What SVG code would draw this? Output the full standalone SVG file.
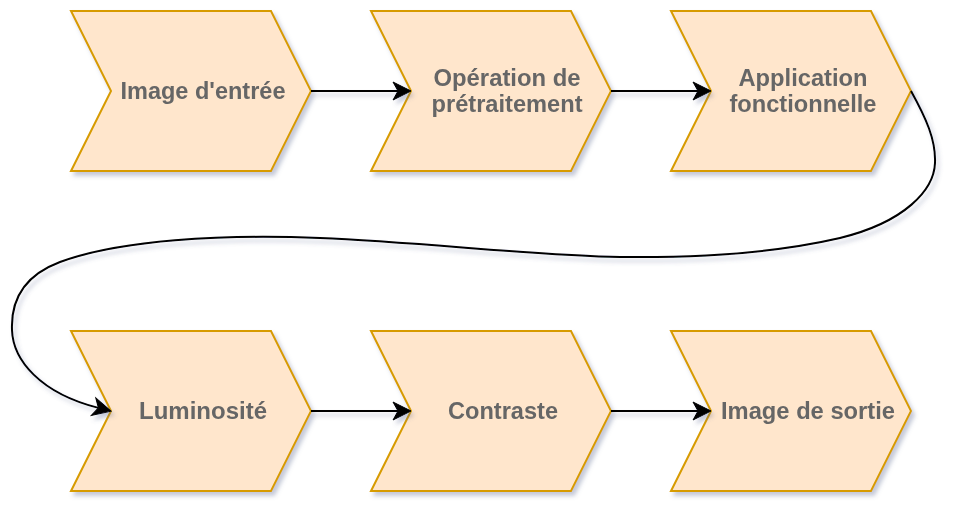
<svg xmlns="http://www.w3.org/2000/svg" width="958" height="514" viewBox="0 0 958 514">
  <style>
    .step { fill: #ffe6cc; stroke: #d79b00; stroke-width: 2; }
    .lbl { font-family: "Liberation Sans", Arial, Helvetica, sans-serif; font-size: 23px; font-weight: bold; fill: #666666; text-anchor: middle; }
    .edge { fill: none; stroke: #000000; stroke-width: 2; }
  </style>
  <defs>
    <filter id="shadow" x="-10%" y="-10%" width="130%" height="130%">
      <feGaussianBlur in="SourceAlpha" stdDeviation="2"/>
      <feOffset dx="3" dy="4" result="b"/>
      <feFlood flood-color="#5a6690" flood-opacity="0.35"/>
      <feComposite in2="b" operator="in"/>
      <feMerge>
        <feMergeNode/>
        <feMergeNode in="SourceGraphic"/>
      </feMerge>
    </filter>
    <marker id="arrow" markerUnits="userSpaceOnUse" markerWidth="40" markerHeight="40" refX="0" refY="0" viewBox="-20 -20 40 40" orient="auto" overflow="visible">
      <path d="M13,0 L-5,-9 L0,0 L-5,9 Z" fill="#000000" stroke="#000000" stroke-width="1" stroke-linejoin="miter"/>
    </marker>
  </defs>

  <g id="node-image-entree" filter="url(#shadow)">
    <polygon class="step" points="71,11 271,11 311,91 271,171 71,171 111,91"/>
    <text class="lbl" x="203" y="99" textLength="165" lengthAdjust="spacingAndGlyphs">Image d'entrée</text>
  </g>
  <g id="node-pretraitement" filter="url(#shadow)">
    <polygon class="step" points="371,11 571,11 611,91 571,171 371,171 411,91"/>
    <text class="lbl" x="507" y="86" textLength="147" lengthAdjust="spacingAndGlyphs">Opération de</text>
    <text class="lbl" x="507" y="112" textLength="151" lengthAdjust="spacingAndGlyphs">prétraitement</text>
  </g>
  <g id="node-application" filter="url(#shadow)">
    <polygon class="step" points="671,11 871,11 911,91 871,171 671,171 711,91"/>
    <text class="lbl" x="803" y="86" textLength="129" lengthAdjust="spacingAndGlyphs">Application</text>
    <text class="lbl" x="803" y="112" textLength="147" lengthAdjust="spacingAndGlyphs">fonctionnelle</text>
  </g>
  <g id="node-luminosite" filter="url(#shadow)">
    <polygon class="step" points="71,331 271,331 311,411 271,491 71,491 111,411"/>
    <text class="lbl" x="203" y="419" textLength="128" lengthAdjust="spacingAndGlyphs">Luminosité</text>
  </g>
  <g id="node-contraste" filter="url(#shadow)">
    <polygon class="step" points="371,331 571,331 611,411 571,491 371,491 411,411"/>
    <text class="lbl" x="503" y="419" textLength="110" lengthAdjust="spacingAndGlyphs">Contraste</text>
  </g>
  <g id="node-image-sortie" filter="url(#shadow)">
    <polygon class="step" points="671,331 871,331 911,411 871,491 671,491 711,411"/>
    <text class="lbl" x="808" y="419" textLength="174" lengthAdjust="spacingAndGlyphs">Image de sortie</text>
  </g>

  <g id="connectors" filter="url(#shadow)">
    <path class="edge" d="M311,91 L398,91" marker-end="url(#arrow)"/>
    <path class="edge" d="M611,91 L698,91" marker-end="url(#arrow)"/>
    <path class="edge" d="M911,91 C926,118 936,140 935,163 C934,190 905,222 840,238 C780,252 700,258 620,257 C540,256 420,242 320,238 C220,234 120,240 60,262 C20,277 11,305 12,330 C13,360 40,393 98.4,407.9" marker-end="url(#arrow)"/>
    <path class="edge" d="M311,411 L398,411" marker-end="url(#arrow)"/>
    <path class="edge" d="M611,411 L698,411" marker-end="url(#arrow)"/>
  </g>
</svg>
